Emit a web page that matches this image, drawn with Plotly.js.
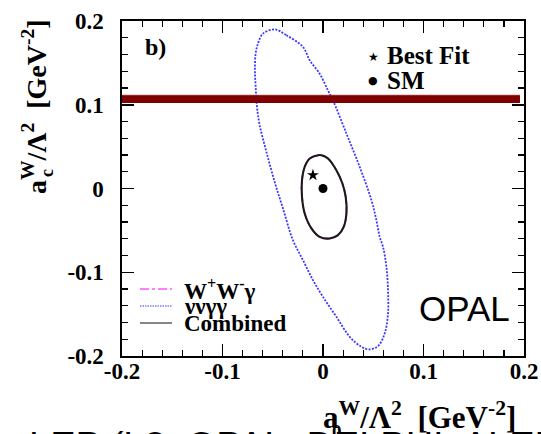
<!DOCTYPE html>
<html>
<head>
<meta charset="utf-8">
<script src="https://cdn.plot.ly/plotly-3.0.1.min.js"></script>
<style>
  html, body { margin: 0; padding: 0; background: #fff; }
  #chart { width: 541px; height: 434px; }
</style>
</head>
<body>
<div id="chart"></div>
<script>
// 95% CL contour of the nu-nu-gamma-gamma channel (a0W, acW in GeV^-2)
const nnggX = [-0.048, -0.0364, -0.0199, -0.0132, -0.0033, 0.005, 0.010, 0.0233, 0.0365, 0.0482,
  0.0531, 0.0564, 0.0597, 0.0631, 0.0647, 0.0647, 0.0614, 0.0547, 0.0458, 0.0382,
  0.0266, 0.0133, 0.0, -0.010, -0.0199, -0.0299, -0.0398, -0.0481, -0.0563, -0.063,
  -0.0657, -0.067, -0.0677, -0.067, -0.0647, -0.0597, -0.048];
const nnggY = [0.190, 0.183, 0.169, 0.153, 0.137, 0.117, 0.105, 0.0656, 0.0258, -0.014,
  -0.0378, -0.0578, -0.0697, -0.0936, -0.1214, -0.1492, -0.173, -0.1882, -0.1921, -0.189,
  -0.1771, -0.1532, -0.1294, -0.1094, -0.0856, -0.0617, -0.0239, 0.0079, 0.0437, 0.0755,
  0.0974, 0.1212, 0.1412, 0.1611, 0.173, 0.185, 0.190];

// W+W-gamma and combined contours (nearly identical)
const wwgX = [-0.0016, -0.0132, -0.0182, -0.0209, -0.0209, -0.0182, -0.0115, -0.0033, 0.0067,
  0.0149, 0.0206, 0.0233, 0.0226, 0.0193, 0.0133, 0.005, -0.0016];
const wwgY = [0.0397, 0.0358, 0.0258, 0.0099, -0.010, -0.0298, -0.0477, -0.0578, -0.0597,
  -0.0557, -0.0458, -0.0298, -0.010, 0.006, 0.0218, 0.0358, 0.0397];
const combX = [-0.005, -0.0132, -0.0182, -0.0209, -0.0209, -0.0182, -0.0115, -0.0033, 0.0067,
  0.0149, 0.0206, 0.0233, 0.0226, 0.0193, 0.0133, 0.005, -0.0016, -0.005];
const combY = [0.0397, 0.0358, 0.0258, 0.0099, -0.010, -0.0298, -0.0477, -0.0578, -0.0597,
  -0.0557, -0.0458, -0.0298, -0.010, 0.006, 0.0218, 0.0358, 0.0397, 0.0397];

// Best fit and Standard Model points
const bestFitX = [-0.010], bestFitY = [0.016];
const smX = [0.0], smY = [0.0];

// Horizontal exclusion band on acW
const bandX = [-0.2, 0.196];
const bandLow = [0.1022, 0.1022];
const bandHigh = [0.1113, 0.1113];

// Axis ticks
const tickVals = [-0.2, -0.1, 0, 0.1, 0.2];
const tickText = ['-0.2', '-0.1', '0', '0.1', '0.2'];

const serifBold = {family: 'Liberation Serif, Times New Roman, serif', color: '#000', weight: 700};
const f = (size) => Object.assign({}, serifBold, {size: size});

const traces = [
  {x: nnggX, y: nnggY, mode: 'lines', line: {color: '#3a3aff', width: 1.8, dash: '2px,1.4px', shape: 'spline', smoothing: 1}, hoverinfo: 'skip'},
  {x: wwgX, y: wwgY, mode: 'lines', line: {color: '#ff00ff', width: 1.6, dash: 'dashdot', shape: 'spline', smoothing: 1}, hoverinfo: 'skip'},
  {x: combX, y: combY, mode: 'lines', line: {color: '#1a1a1a', width: 2.1, shape: 'spline', smoothing: 1}, hoverinfo: 'skip'},
  {x: bandX, y: bandLow, mode: 'lines', line: {width: 0, color: '#7f0000'}, hoverinfo: 'skip'},
  {x: bandX, y: bandHigh, mode: 'lines', fill: 'tonexty', fillcolor: '#7f0000', line: {width: 0.8, color: '#a01010'}, hoverinfo: 'skip'},
  {x: bestFitX, y: bestFitY, mode: 'markers', marker: {symbol: 'star', size: 9, color: '#000'}, hoverinfo: 'skip'},
  {x: smX, y: smY, mode: 'markers', marker: {symbol: 'circle', size: 9, color: '#000'}, hoverinfo: 'skip'}
];

const axisCommon = {
  range: [-0.2, 0.2],
  tickvals: tickVals,
  ticktext: tickText,
  ticks: 'inside',
  ticklen: 12,
  tickwidth: 1.5,
  tickcolor: '#000',
  minor: {dtick: 0.02, ticks: 'inside', ticklen: 6, tickwidth: 1.2, tickcolor: '#000', showgrid: false},
  showline: true,
  linecolor: '#000',
  linewidth: 1.6,
  mirror: 'allticks',
  showgrid: false,
  zeroline: false,
  tickfont: f(23),
  fixedrange: true
};

const px = (p) => (p - 122) / 402;   // page x -> paper x
const py = (p) => (356 - p) / 335;   // page y -> paper y

// text placed in paper coordinates
const note = (text, x, y, font, extra) => Object.assign({
  text: text, x: px(x), y: py(y), xref: 'paper', yref: 'paper',
  xanchor: 'left', yanchor: 'middle', showarrow: false, font: font
}, extra || {});

const annotations = [
  note('b)', 143, 47, f(24)),
  note('★', 373, 57, {family: 'DejaVu Sans', size: 12, color: '#000'}, {xanchor: 'center'}),
  note('Best Fit', 385, 55, f(25)),
  note('●', 373, 81, {family: 'DejaVu Sans', size: 11, color: '#000'}, {xanchor: 'center'}),
  note('SM', 385, 80, f(25)),
  note('W<sup>+</sup>W<sup>-</sup>γ', 182, 289, f(23)),
  note('ννγγ', 182, 306, f(23)),
  note('Combined', 182, 323, f(23)),
  note('OPAL', 512, 308, {family: 'Liberation Sans, Arial, sans-serif', size: 35, color: '#000'}, {xanchor: 'right'}),
  // x axis title
  note('a<sup>W</sup>/Λ<sup>2</sup>  [GeV<sup>-2</sup>]', 419, 415, f(31), {xanchor: 'center'}),
  note('0', 337, 431, f(19), {xanchor: 'center'}),
  // y axis title
  note('a<sup>W</sup>/Λ<sup>2</sup>  [GeV<sup>-2</sup>]', 34, 107, f(28), {xanchor: 'center', textangle: -90}),
  note('c', 47, 173, f(18), {xanchor: 'center', textangle: -90}),
  // caption line below the chart
  note('LEP (L3, OPAL, DELPHI, ALEPH)', 27, 423,
       {family: 'Liberation Sans, Arial, sans-serif', size: 38, color: '#000'}, {yanchor: 'top'})
];

// legend keys for the contour lines
const shapes = [
  {type: 'line', xref: 'paper', yref: 'paper', x0: px(140), x1: px(172), y0: py(289), y1: py(289),
   line: {color: '#ff00ff', width: 1, dash: 'dashdot'}},
  {type: 'line', xref: 'paper', yref: 'paper', x0: px(140), x1: px(172), y0: py(306), y1: py(306),
   line: {color: '#3a3aff', width: 1.2, dash: '1.5px,1px'}},
  {type: 'line', xref: 'paper', yref: 'paper', x0: px(140), x1: px(172), y0: py(323), y1: py(323),
   line: {color: '#444', width: 1.3}}
];

const layout = {
  width: 541,
  height: 434,
  margin: {l: 122, r: 17, t: 21, b: 78, pad: 0},
  paper_bgcolor: '#fff',
  plot_bgcolor: '#fff',
  showlegend: false,
  xaxis: Object.assign({}, axisCommon, {ticklabelstandoff: -6}),
  yaxis: Object.assign({}, axisCommon, {ticklabelstandoff: 12}),
  annotations: annotations,
  shapes: shapes
};

Plotly.newPlot('chart', traces, layout, {staticPlot: true, displayModeBar: false});
</script>
</body>
</html>
